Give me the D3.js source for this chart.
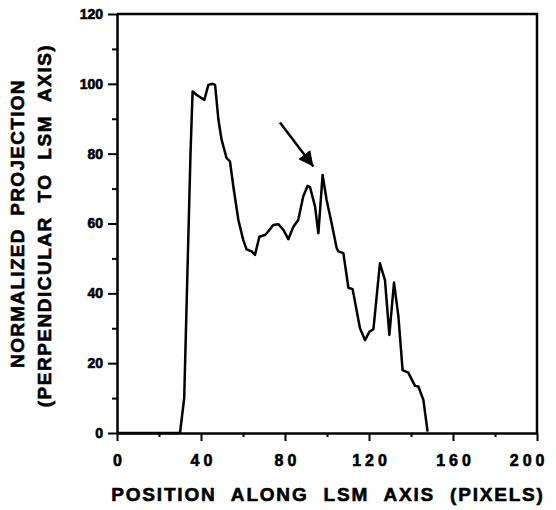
<!DOCTYPE html>
<html>
<head>
<meta charset="utf-8">
<script src="https://cdn.jsdelivr.net/npm/d3@7"></script>
<style>
  body { margin: 0; background: #fff; }
  text { font-family: "Liberation Sans", Arial, sans-serif; font-weight: bold; fill: #000;
         stroke: #000; stroke-width: 0.6px; }
</style>
</head>
<body>
<script>

// profile: position (pixels) and normalized projection
var positions = [0, 30, 32, 33.5, 35, 36, 38, 41.6, 43.5, 45.5, 46.7, 48.3, 49.8, 52.2, 53.8, 55.4,
  57.8, 60.1, 61.7, 64.1, 65.7, 67.8, 70.5, 72, 74.4, 76.8, 79.2, 81.6, 84, 86.3, 88.7, 90.8, 91.9,
  94.3, 95.9, 97.9, 99.8, 102.2, 104.6, 105.4, 107.8, 110.2, 112.2, 115.7, 118.1, 120.2, 122.1,
  125.2, 127.6, 129.7, 131.9, 134, 136, 138.7, 141.9, 143.5, 145.9, 147.9];
var projection = [0, 0, 10, 45, 80, 97.8, 96.8, 95.4, 99.7, 100, 99.7, 89.7, 84, 78.7, 77.8, 70.6,
  61, 55.3, 52.6, 52, 51, 56.2, 56.7, 57.7, 59.6, 59.8, 58.2, 55.5, 59.1, 61, 67.8, 70.8, 70.4,
  64.9, 57.2, 73.9, 66.8, 60.1, 53, 52, 51.5, 41.6, 41.2, 30, 26.6, 29, 29.7,
  48.6, 43.8, 28.1, 43.1, 33.4, 18, 17.3, 13.5, 13.3, 9.5, 0.4];

var xMajor = [0, 40, 80, 120, 160, 200];
var xMinor = [20, 60, 100, 140, 180];
var yMajor = [0, 20, 40, 60, 80, 100, 120];
var yMinor = [10, 30, 50, 70, 90, 110];

// arrow pointing at the feature: [x, y] tail and tip in data units
var arrowTail = [77.6, 88.9];
var arrowTip = [93.5, 76.3];

var margin = { top: 14, right: 19, bottom: 77, left: 117 };
var width = 556, height = 510;

var svg = d3.select("body").append("svg")
  .attr("width", width)
  .attr("height", height);

var xScale = d3.scaleLinear()
  .domain([0, 200])
  .range([margin.left, width - margin.right]);

var yScale = d3.scaleLinear()
  .domain([0, 120])
  .range([height - margin.bottom, margin.top]);

// minor ticks
svg.append("g")
  .attr("transform", `translate(0, ${yScale(0)})`)
  .call(d3.axisBottom(xScale).tickValues(xMinor).tickSize(4).tickFormat(""))
  .call(g => g.select(".domain").remove());
svg.append("g")
  .attr("transform", `translate(${xScale(0)},0)`)
  .call(d3.axisLeft(yScale).tickValues(yMinor).tickSize(5).tickFormat(""))
  .call(g => g.select(".domain").remove());

var xAxis = svg.append("g")
  .attr("transform", `translate(0, ${yScale(0)})`)
  .call(d3.axisBottom(xScale).tickValues(xMajor).tickSize(8).tickSizeOuter(0).tickPadding(14));
xAxis.selectAll("text")
  .style("font-size", "16px")
  .style("letter-spacing", "4px")
  .attr("dx", "2px");
// the last label sits against the right edge in the original
xAxis.selectAll(".tick").filter(d => d === 200).select("text")
  .attr("text-anchor", "end")
  .attr("dx", "11px");

var yAxis = svg.append("g")
  .attr("transform", `translate(${xScale(0)},0)`)
  .call(d3.axisLeft(yScale).tickValues(yMajor).tickSize(9).tickSizeOuter(0).tickPadding(5));
yAxis.selectAll("text")
  .style("font-size", "14px");

svg.selectAll(".domain, .tick line")
  .attr("stroke", "#000")
  .attr("stroke-width", 2.5);
svg.selectAll(".tick line").attr("stroke-width", 2);

// top and right frame
svg.append("path")
  .attr("d", `M${xScale(0)},${yScale(120)}H${xScale(200)}V${yScale(0)}`)
  .attr("fill", "none")
  .attr("stroke", "#000")
  .attr("stroke-width", 2.5);

var line = d3.line()
  .x(function(d, i) { return xScale(positions[i]); })
  .y(function(d) { return yScale(d); });

svg.append("path")
  .datum(projection)
  .attr("d", line)
  .attr("fill", "none")
  .attr("stroke", "#000")
  .attr("stroke-linejoin", "round")
  .attr("stroke-width", 2.5);

// arrow
svg.append("defs").append("marker")
  .attr("id", "head")
  .attr("viewBox", "0 0 10 10")
  .attr("refX", 10).attr("refY", 5)
  .attr("markerWidth", 6).attr("markerHeight", 6)
  .attr("markerUnits", "strokeWidth")
  .attr("orient", "auto")
  .append("path")
  .attr("d", "M0,0L10,5L0,10Z")
  .attr("fill", "#000");

svg.append("line")
  .attr("x1", xScale(arrowTail[0])).attr("y1", yScale(arrowTail[1]))
  .attr("x2", xScale(arrowTip[0])).attr("y2", yScale(arrowTip[1]))
  .attr("stroke", "#000")
  .attr("stroke-width", 2.5)
  .attr("marker-end", "url(#head)");

// axis titles
svg.append("text")
  .attr("text-anchor", "middle")
  .attr("x", 328)
  .attr("y", 501)
  .style("font-size", "19px")
  .style("letter-spacing", "1.8px")
  .style("word-spacing", "8px")
  .text("POSITION ALONG LSM AXIS (PIXELS)");

var yMid = (yScale(0) + yScale(120)) / 2;
svg.append("text")
  .attr("text-anchor", "middle")
  .attr("transform", `translate(24, ${yMid})rotate(-90)`)
  .style("font-size", "19px")
  .style("letter-spacing", "1.3px")
  .style("word-spacing", "6px")
  .text("NORMALIZED PROJECTION");

svg.append("text")
  .attr("text-anchor", "middle")
  .attr("transform", `translate(51, ${yMid + 2})rotate(-90)`)
  .style("font-size", "19px")
  .style("letter-spacing", "1.5px")
  .style("word-spacing", "7px")
  .text("(PERPENDICULAR TO LSM AXIS)");

</script>
</body>
</html>
